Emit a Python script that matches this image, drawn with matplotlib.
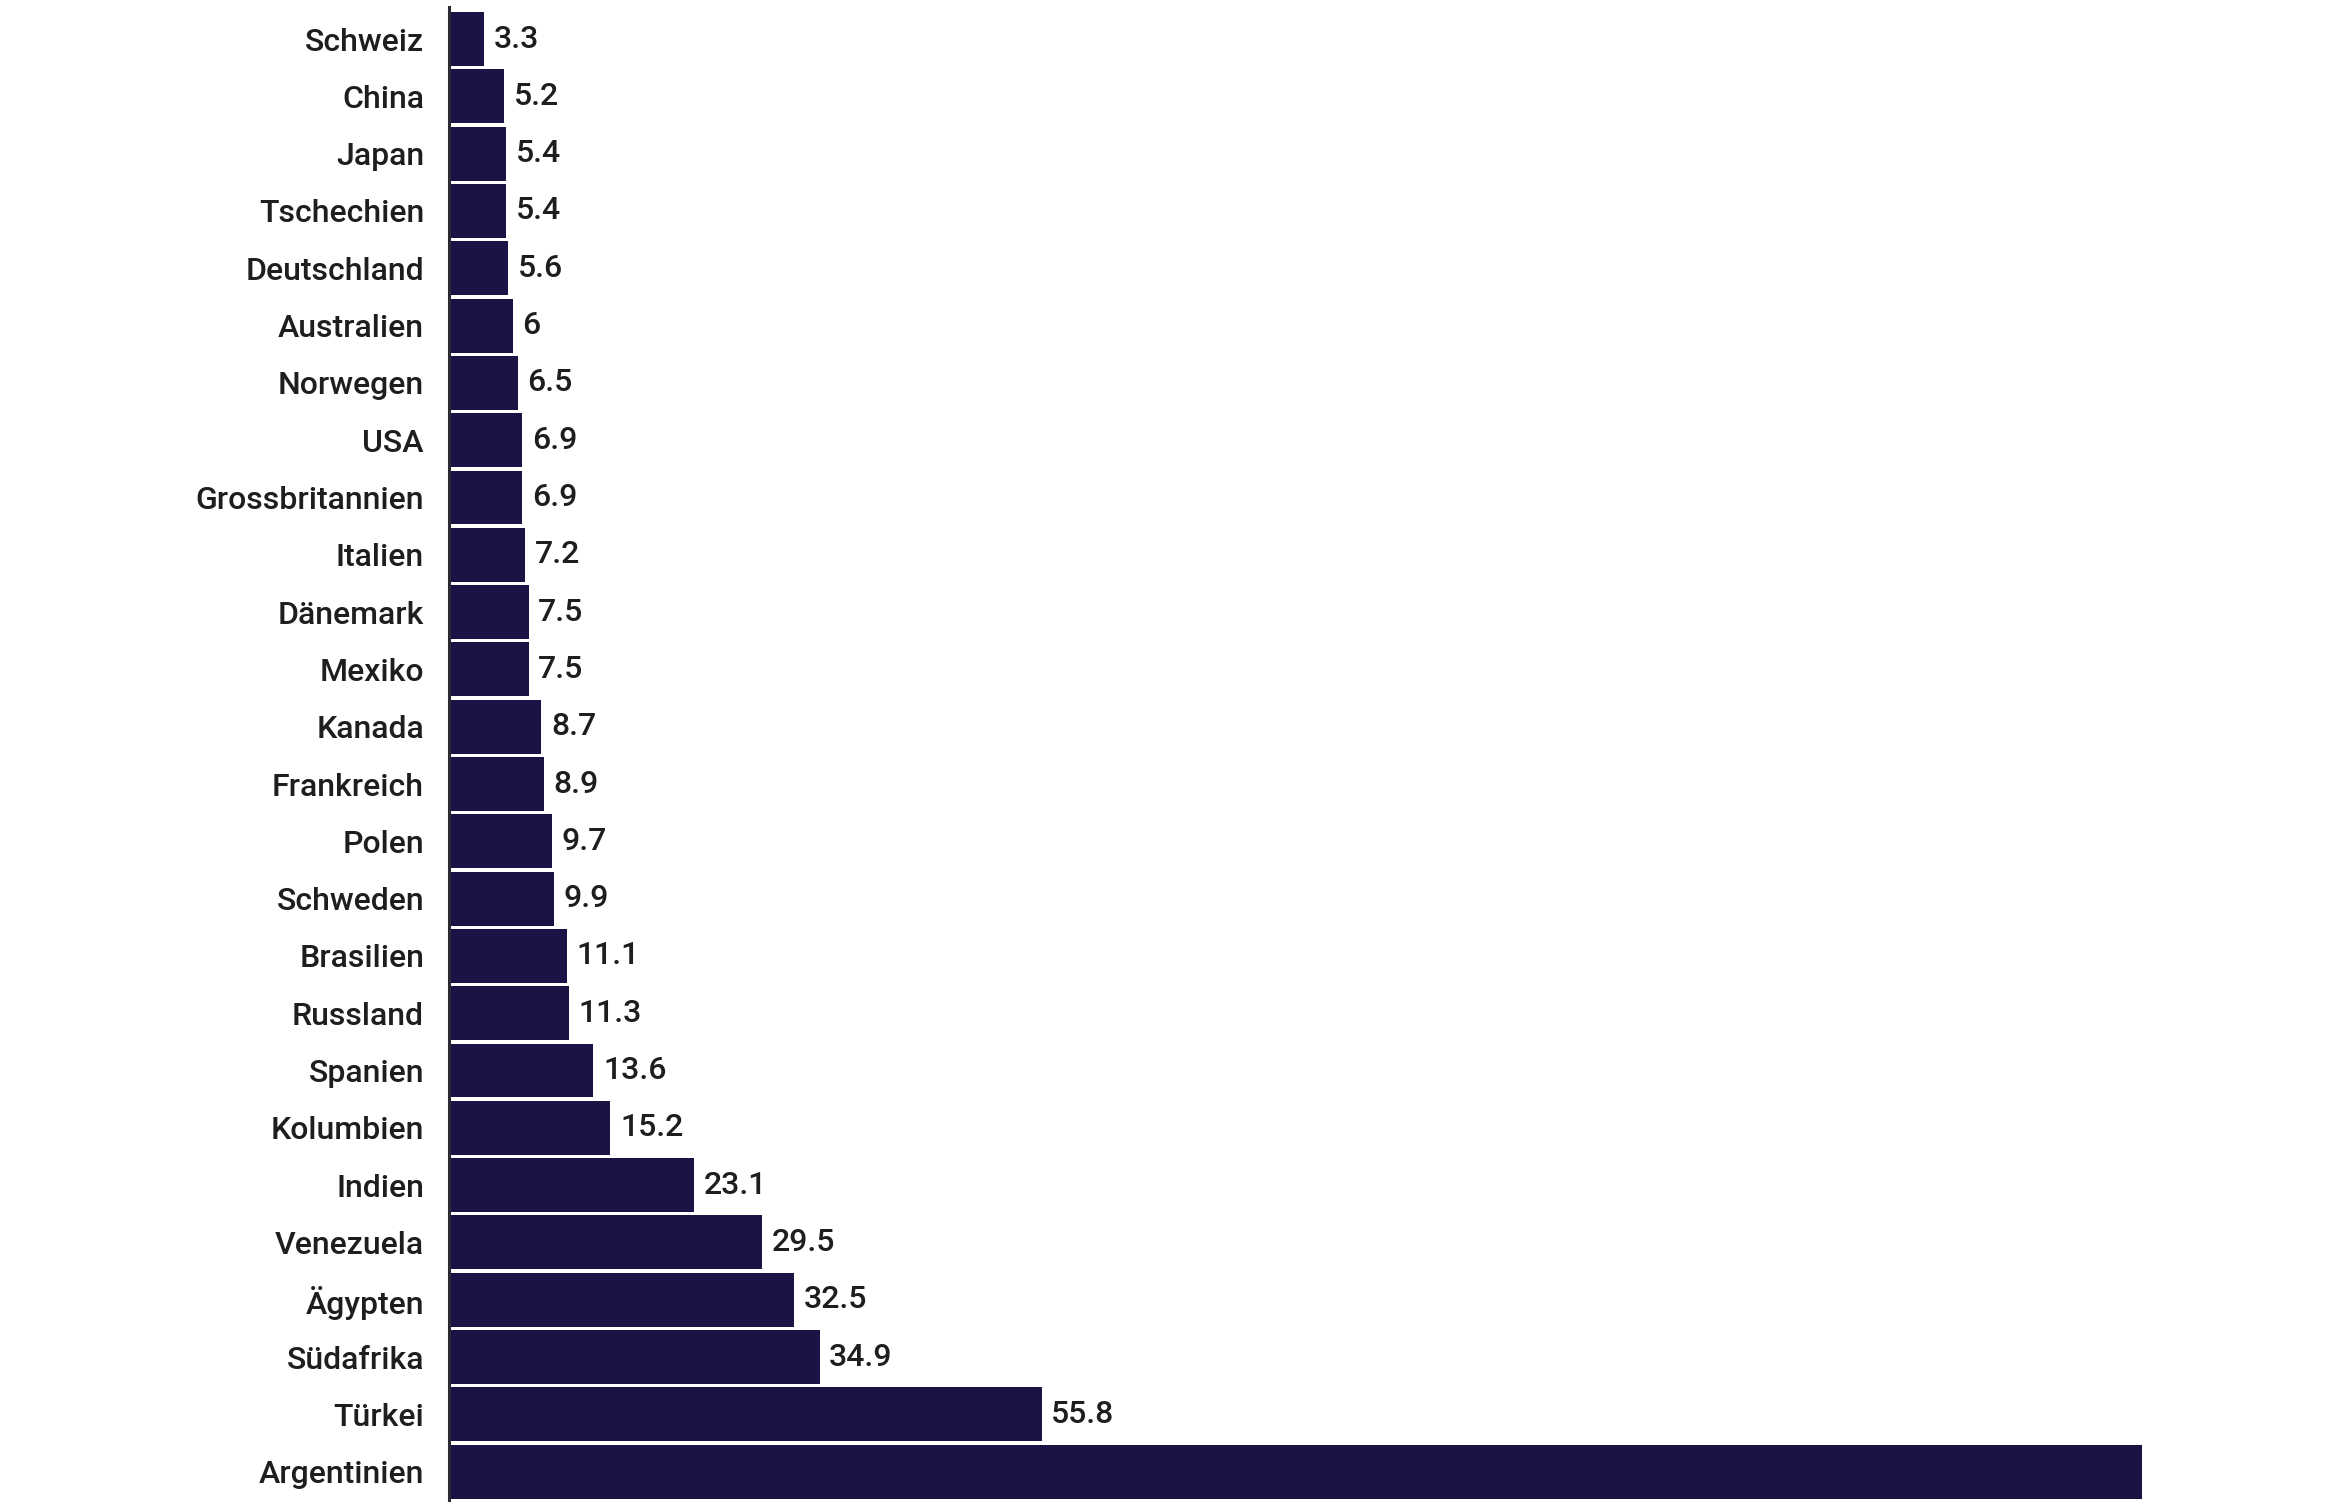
import matplotlib as mpl
import matplotlib.pyplot as plt

# Data (top to bottom)
countries = [
    "Schweiz", "China", "Japan", "Tschechien", "Deutschland", "Australien",
    "Norwegen", "USA", "Grossbritannien", "Italien", "Dänemark", "Mexiko",
    "Kanada", "Frankreich", "Polen", "Schweden", "Brasilien", "Russland",
    "Spanien", "Kolumbien", "Indien", "Venezuela", "Ägypten", "Südafrika",
    "Türkei", "Argentinien",
]
values = [
    3.3, 5.2, 5.4, 5.4, 5.6, 6, 6.5, 6.9, 6.9, 7.2, 7.5, 7.5,
    8.7, 8.9, 9.7, 9.9, 11.1, 11.3, 13.6, 15.2, 23.1, 29.5, 32.5, 34.9,
    55.8, 159.4,
]
value_labels = [
    "3.3", "5.2", "5.4", "5.4", "5.6", "6", "6.5", "6.9", "6.9", "7.2", "7.5", "7.5",
    "8.7", "8.9", "9.7", "9.9", "11.1", "11.3", "13.6", "15.2", "23.1", "29.5", "32.5", "34.9",
    "55.8", "",
]

COLOR_BAR = "#1a1446"
COLOR_TEXT = "#1e1e1e"
COLOR_AXIS = "#2a2a33"

mpl.rcParams.update({
    "font.family": ["Roboto", "DejaVu Sans"],
})

fig = plt.figure(figsize=(23.52, 15.02), dpi=100)
ax = fig.add_axes([449 / 2352, 0, 1 - 449 / 2352, 1 - 7 / 1502])

y = list(range(len(countries)))
bars = ax.barh(y, values, height=0.94, color=COLOR_BAR)

for bar, lab in zip(bars, value_labels):
    if lab:
        ax.text(bar.get_width() + 0.9, bar.get_y() + bar.get_height() / 2,
                lab, va="center", ha="left", fontsize=23, fontweight="medium",
                color=COLOR_TEXT)

ax.set_yticks(y)
ax.set_yticklabels(countries, fontsize=23, fontweight="medium", color=COLOR_TEXT)
ax.tick_params(axis="y", length=0, pad=18)
ax.set_xticks([])
ax.set_xlim(0, 1903 / 10.62)
ax.set_ylim(25.53, -0.56)

for side in ["top", "right", "bottom"]:
    ax.spines[side].set_visible(False)
ax.spines["left"].set_color(COLOR_AXIS)
ax.spines["left"].set_linewidth(2.2)

fig.savefig("out.png", dpi=100)
